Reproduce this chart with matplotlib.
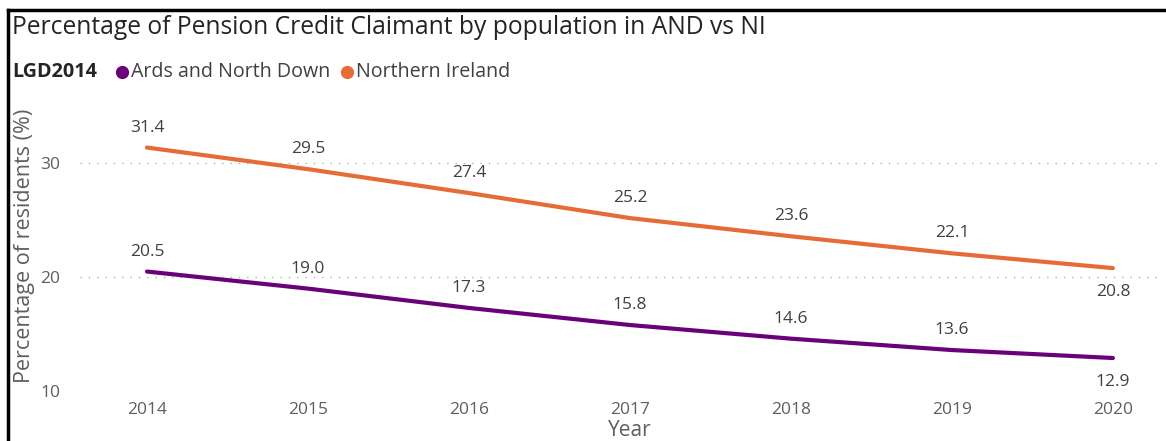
import matplotlib
matplotlib.use("Agg")
import matplotlib.pyplot as plt
from matplotlib.lines import Line2D

years = [2014, 2015, 2016, 2017, 2018, 2019, 2020]
and_values = [20.5, 19.0, 17.3, 15.8, 14.6, 13.6, 12.9]
ni_values = [31.4, 29.5, 27.4, 25.2, 23.6, 22.1, 20.8]
series_names = ["Ards and North Down", "Northern Ireland"]
yticks = [10, 20, 30]

PURPLE = "#6B007B"
ORANGE = "#E66C37"
W, H = 1166, 441
fig = plt.figure(figsize=(W / 100, H / 100), dpi=100)
ax = fig.add_axes([80 / W, 1 - 391 / H, (1158 - 80) / W, (391 - 110) / H])

ax.plot(years, ni_values, color=ORANGE, lw=3, solid_capstyle="round")
ax.plot(years, and_values, color=PURPLE, lw=3, solid_capstyle="round")

lab_font = dict(family="Open Sans", fontsize=12.5, color="#404040", ha="center")
for i, (x, y) in enumerate(zip(years, ni_values)):
    last = i == len(years) - 1
    ax.annotate(f"{y:.1f}", (x, y), xytext=(0, -24 if last else 20),
                textcoords="offset pixels", va="center", **lab_font)
for i, (x, y) in enumerate(zip(years, and_values)):
    last = i == len(years) - 1
    ax.annotate(f"{y:.1f}", (x, y), xytext=(0, -24 if last else 20),
                textcoords="offset pixels", va="center", **lab_font)

ax.set_xlim(2013.584, 2020.28)
ax.set_ylim(10, 34.7)
ax.set_xticks(years)
ax.set_xticklabels([str(y) for y in years], family="Open Sans", fontsize=12.5, color="#605E5C")
ax.set_yticks(yticks)
ax.set_yticklabels([str(y) for y in yticks], family="Open Sans", fontsize=12.5, color="#605E5C")
ax.tick_params(length=0, pad=14)
ax.tick_params(axis="x", pad=8)
for s in ax.spines.values():
    s.set_visible(False)
ax.grid(axis="y", linestyle=(0, (1, 5)), color="#B0B0B0", lw=1)
ax.set_axisbelow(True)

fig.text(25 / W, 1 - 246 / H, "Percentage of residents (%)", rotation=90,
         family="Open Sans", fontsize=15.5, color="#605E5C", ha="center", va="center")
fig.text((147 + 1113) / 2 / W, 1 - 436 / H, "Year", family="Open Sans", fontsize=15,
         color="#605E5C", ha="center", va="baseline")

fig.text(12 / W, 1 - 28 / H, "Percentage of Pension Credit Claimant by population in AND vs NI",
         family="Open Sans", fontsize=17.7, color="#252423", ha="left", va="center")

fig.text(12 / W, 1 - 72 / H, "LGD2014", family="Open Sans", fontsize=14.2, weight="bold",
         color="#252423", ha="left", va="center")
leg_x = [122, 347]
for xpix, name, col in zip(leg_x, series_names, [PURPLE, ORANGE]):
    fig.add_artist(Line2D([xpix / W], [1 - 72 / H], marker="o", markersize=8.5,
                          color=col, transform=fig.transFigure, linestyle="none"))
    fig.text((xpix + 9) / W, 1 - 72 / H, name, family="Open Sans", fontsize=14.1,
             color="#404040", ha="left", va="center")

fig.add_artist(Line2D([8 / W, 1], [1 - 10 / H, 1 - 10 / H], color="black", lw=2.5,
                      transform=fig.transFigure))
fig.add_artist(Line2D([8 / W, 8 / W], [0, 1 - 10 / H], color="black", lw=2.5,
                      transform=fig.transFigure))

fig.savefig("out.png", dpi=100)
